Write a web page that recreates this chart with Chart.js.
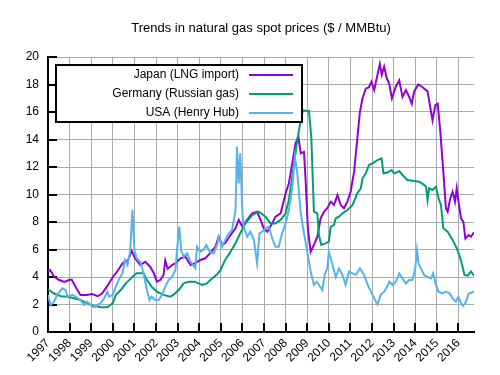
<!DOCTYPE html>
<html>
<head>
<meta charset="utf-8">
<script src="https://cdn.jsdelivr.net/npm/chart.js@4"></script>
<style>
  body { margin: 0; background: #fff; }
  canvas { display: block; }
</style>
</head>
<body>
<canvas id="chartGas" width="500" height="375"></canvas>
<script>
// spot prices, $ / MMBtu as [year, value]
const TITLE = 'Trends in natural gas spot prices ($ / MMBtu)';
const SERIES_LABELS = ['Japan (LNG import)', 'Germany (Russian gas)', 'USA (Henry Hub)'];
const YEAR_MIN = 1997, YEAR_MAX = 2016.72;
const PRICE_MIN = 0, PRICE_MAX = 20, PRICE_STEP = 2;

const japan = [
  [1997.0, 4.4], [1997.1, 4.5], [1997.3, 4.0], [1997.5, 3.8], [1997.75, 3.65], [1998.0, 3.8], [1998.1, 3.8],
  [1998.36, 3.05], [1998.5, 2.7], [1998.8, 2.7], [1999.05, 2.76], [1999.3, 2.6], [1999.5, 2.8], [1999.75, 3.35],
  [2000.0, 4.0], [2000.2, 4.4], [2000.45, 5.0], [2000.7, 5.2], [2000.87, 5.9], [2001.03, 5.36], [2001.27, 4.87],
  [2001.5, 5.1], [2001.73, 4.75], [2001.9, 4.27], [2002.04, 3.66], [2002.2, 3.78], [2002.35, 4.15], [2002.43, 5.2],
  [2002.54, 4.6], [2002.74, 4.87], [2002.9, 5.0], [2003.13, 5.36], [2003.36, 5.47], [2003.6, 4.87], [2003.8, 5.0],
  [2004.05, 5.24], [2004.28, 5.36], [2004.5, 5.72], [2004.75, 6.2], [2004.9, 6.93], [2005.06, 6.33], [2005.2, 6.45],
  [2005.45, 7.05], [2005.68, 7.54], [2005.83, 8.15], [2006.0, 7.66], [2006.22, 8.15], [2006.45, 8.63], [2006.68, 8.75],
  [2006.84, 8.15], [2006.99, 7.54], [2007.15, 7.3], [2007.38, 7.9], [2007.53, 8.39], [2007.77, 8.63], [2008.0, 10.09],
  [2008.15, 10.8], [2008.31, 12.27], [2008.46, 13.72], [2008.59, 14.2], [2008.7, 13.0], [2008.85, 13.1], [2008.93, 10.9],
  [2009.03, 7.54], [2009.16, 5.84], [2009.31, 6.33], [2009.47, 6.93], [2009.62, 8.27], [2009.78, 8.75], [2009.93, 9.0],
  [2010.09, 9.48], [2010.24, 9.24], [2010.4, 9.96], [2010.55, 9.24], [2010.7, 9.0], [2010.86, 9.48], [2011.01, 10.2],
  [2011.17, 11.66], [2011.32, 14.09], [2011.44, 16.02], [2011.56, 17.0], [2011.71, 17.7], [2011.86, 17.8], [2011.97, 18.2],
  [2012.1, 17.6], [2012.25, 18.7], [2012.36, 19.5], [2012.45, 18.7], [2012.56, 19.3], [2012.68, 18.45], [2012.79, 18.1],
  [2012.92, 17.0], [2013.1, 17.84], [2013.26, 18.3], [2013.41, 17.1], [2013.57, 17.6], [2013.72, 17.1], [2013.84, 16.6],
  [2013.95, 17.5], [2014.14, 18.0], [2014.34, 17.8], [2014.57, 17.5], [2014.7, 16.3], [2014.8, 15.4], [2014.93, 16.5],
  [2015.04, 16.6], [2015.16, 14.6], [2015.3, 11.66], [2015.42, 9.0], [2015.5, 8.75], [2015.62, 9.7], [2015.73, 10.2],
  [2015.84, 9.48], [2015.92, 10.45], [2016.0, 9.48], [2016.12, 8.27], [2016.23, 8.0], [2016.32, 6.8], [2016.47, 7.05],
  [2016.58, 6.93], [2016.72, 7.25]
];

const germany = [
  [1997.0, 3.1], [1997.28, 2.8], [1997.6, 2.6], [1997.9, 2.57], [1998.2, 2.45], [1998.5, 2.33], [1998.8, 2.1],
  [1999.1, 1.9], [1999.45, 1.8], [1999.75, 1.8], [2000.0, 2.1], [2000.14, 2.7], [2000.37, 3.05], [2000.6, 3.54],
  [2000.84, 3.9], [2001.0, 4.15], [2001.1, 4.27], [2001.42, 4.27], [2001.58, 3.78], [2001.8, 3.3], [2002.04, 2.93],
  [2002.35, 2.7], [2002.66, 2.57], [2002.8, 2.7], [2003.05, 3.05], [2003.28, 3.54], [2003.5, 3.66], [2003.8, 3.66],
  [2004.13, 3.42], [2004.36, 3.54], [2004.6, 3.9], [2004.83, 4.2], [2004.98, 4.5], [2005.2, 5.24], [2005.45, 5.84],
  [2005.68, 6.45], [2005.9, 7.18], [2006.14, 7.9], [2006.45, 8.5], [2006.76, 8.75], [2007.07, 8.39], [2007.3, 7.9],
  [2007.53, 7.9], [2007.77, 8.15], [2008.0, 8.63], [2008.15, 9.6], [2008.31, 11.3], [2008.54, 13.96], [2008.7, 15.4],
  [2008.8, 16.1], [2009.08, 16.07], [2009.19, 14.1], [2009.31, 8.75], [2009.47, 8.63], [2009.54, 7.05], [2009.65, 6.33],
  [2009.85, 6.45], [2010.0, 6.57], [2010.09, 7.66], [2010.24, 7.78], [2010.32, 8.27], [2010.47, 8.39], [2010.63, 8.63],
  [2010.86, 8.87], [2011.1, 9.24], [2011.32, 10.09], [2011.48, 10.45], [2011.56, 11.18], [2011.71, 11.54], [2011.86, 12.14],
  [2012.02, 12.27], [2012.25, 12.5], [2012.44, 12.63], [2012.53, 11.54], [2012.72, 11.6], [2012.9, 11.78], [2013.03, 11.54],
  [2013.26, 11.7], [2013.41, 11.42], [2013.64, 11.05], [2013.95, 10.98], [2014.18, 10.93], [2014.41, 10.7], [2014.5, 10.57],
  [2014.57, 9.6], [2014.64, 10.45], [2014.8, 10.33], [2014.96, 10.57], [2015.08, 9.72], [2015.19, 9.24], [2015.3, 7.54],
  [2015.5, 7.3], [2015.73, 6.7], [2015.92, 6.09], [2016.04, 5.6], [2016.17, 4.87], [2016.28, 4.15], [2016.43, 4.1],
  [2016.58, 4.4], [2016.72, 4.1]
];

const usa = [
  [1997.0, 2.7], [1997.12, 1.96], [1997.28, 2.2], [1997.43, 2.7], [1997.66, 3.18], [1997.82, 3.05], [1997.9, 2.57],
  [1998.13, 2.7], [1998.28, 2.57], [1998.5, 2.33], [1998.67, 1.96], [1998.82, 2.2], [1998.98, 1.96], [1999.13, 1.8],
  [1999.29, 1.96], [1999.45, 2.13], [1999.6, 2.45], [1999.75, 2.93], [1999.83, 2.57], [2000.0, 2.7], [2000.14, 3.3],
  [2000.3, 3.9], [2000.45, 4.27], [2000.56, 5.24], [2000.68, 4.87], [2000.8, 5.84], [2000.91, 8.87], [2001.0, 5.96],
  [2001.1, 5.36], [2001.27, 5.1], [2001.42, 4.27], [2001.58, 3.05], [2001.7, 2.33], [2001.8, 2.57], [2001.96, 2.33],
  [2002.12, 2.33], [2002.28, 2.7], [2002.43, 3.3], [2002.58, 3.78], [2002.74, 4.0], [2002.9, 4.5], [2002.97, 5.96],
  [2003.08, 7.66], [2003.16, 5.96], [2003.28, 5.47], [2003.44, 5.72], [2003.6, 5.1], [2003.82, 4.63], [2003.9, 6.2],
  [2004.05, 5.84], [2004.2, 5.96], [2004.33, 6.33], [2004.48, 5.84], [2004.67, 5.72], [2004.85, 6.45], [2004.9, 6.93],
  [2005.06, 6.2], [2005.2, 6.7], [2005.37, 7.18], [2005.52, 7.42], [2005.68, 8.87], [2005.75, 13.48], [2005.83, 10.8],
  [2005.9, 13.0], [2006.0, 8.63], [2006.06, 7.66], [2006.22, 6.93], [2006.37, 7.3], [2006.53, 6.7], [2006.68, 5.0],
  [2006.79, 7.18], [2006.92, 7.3], [2007.07, 7.54], [2007.22, 7.66], [2007.38, 6.8], [2007.53, 6.2], [2007.68, 6.2],
  [2007.84, 7.18], [2008.0, 7.9], [2008.15, 8.87], [2008.31, 10.57], [2008.43, 12.75], [2008.54, 11.54], [2008.7, 8.63],
  [2008.85, 7.18], [2009.0, 5.84], [2009.16, 4.4], [2009.31, 3.42], [2009.44, 3.66], [2009.54, 3.42], [2009.7, 3.05],
  [2009.8, 4.15], [2009.93, 4.63], [2010.0, 5.84], [2010.17, 4.87], [2010.32, 4.0], [2010.47, 4.63], [2010.63, 4.15],
  [2010.78, 3.42], [2010.93, 4.4], [2011.1, 4.27], [2011.25, 4.15], [2011.44, 4.63], [2011.63, 4.15], [2011.8, 3.42],
  [2012.02, 2.7], [2012.25, 2.0], [2012.4, 2.7], [2012.56, 2.93], [2012.74, 3.42], [2012.8, 3.66], [2012.95, 3.42],
  [2013.1, 3.66], [2013.26, 4.27], [2013.41, 3.9], [2013.57, 3.54], [2013.72, 3.78], [2013.87, 3.78], [2014.0, 4.63],
  [2014.08, 5.96], [2014.15, 5.0], [2014.26, 4.63], [2014.41, 4.15], [2014.57, 4.0], [2014.73, 3.9], [2014.83, 4.27],
  [2014.96, 3.42], [2015.08, 2.93], [2015.24, 2.8], [2015.42, 2.93], [2015.6, 2.8], [2015.73, 2.45], [2015.88, 2.2],
  [2016.0, 2.57], [2016.12, 2.09], [2016.22, 1.9], [2016.35, 2.2], [2016.47, 2.8], [2016.6, 2.85], [2016.72, 2.95]
];

const COLORS = { japan: '#9400d3', germany: '#009e73', usa: '#56b4e9', grid: '#ababab' };
const FONT = '"Liberation Sans", Arial, sans-serif';

const toXY = arr => arr.map(([x, y]) => ({ x, y }));

// gnuplot style: ticks point inward, title over the plot area, legend box with text then sample line
const gnuplotDecor = {
  id: 'gnuplotDecor',
  beforeDatasetsDraw(chart) {
    const { ctx, scales: { x, y } } = chart;
    ctx.save();
    ctx.strokeStyle = '#000';
    ctx.lineWidth = 2;
    ctx.beginPath();
    x.ticks.forEach(t => {
      const px = Math.round(x.getPixelForValue(t.value));
      ctx.moveTo(px, y.bottom);
      ctx.lineTo(px, y.bottom - 9);
    });
    y.ticks.forEach(t => {
      const py = Math.round(y.getPixelForValue(t.value));
      ctx.moveTo(x.left, py);
      ctx.lineTo(x.left + 9, py);
    });
    ctx.stroke();
    ctx.restore();
  },
  afterDatasetsDraw(chart) {
    const { ctx, chartArea } = chart;
    ctx.save();
    // title
    ctx.fillStyle = '#000';
    ctx.font = '13px ' + FONT;
    ctx.textAlign = 'center';
    ctx.textBaseline = 'middle';
    ctx.fillText(TITLE, (chartArea.left + chartArea.right) / 2, 28);

    // legend
    const box = { l: 56, t: 65, r: 302, b: 122 };
    ctx.fillStyle = '#fff';
    ctx.fillRect(box.l, box.t, box.r - box.l, box.b - box.t);
    ctx.strokeStyle = '#000';
    ctx.lineWidth = 2;
    ctx.strokeRect(box.l, box.t, box.r - box.l, box.b - box.t);
    ctx.font = '12px ' + FONT;
    ctx.textAlign = 'right';
    const rows = [75, 94, 113];
    chart.data.datasets.forEach((ds, i) => {
      ctx.fillStyle = '#000';
      ctx.fillText(ds.label, 239, rows[i]);
      ctx.strokeStyle = ds.borderColor;
      ctx.lineWidth = 2;
      ctx.beginPath();
      ctx.moveTo(249, rows[i]);
      ctx.lineTo(293, rows[i]);
      ctx.stroke();
    });
    ctx.restore();
  }
};

new Chart(document.getElementById('chartGas'), {
  type: 'line',
  data: {
    datasets: [
      { label: SERIES_LABELS[0], data: toXY(japan), borderColor: COLORS.japan, order: 2 },
      { label: SERIES_LABELS[1], data: toXY(germany), borderColor: COLORS.germany, order: 1 },
      { label: SERIES_LABELS[2], data: toXY(usa), borderColor: COLORS.usa, order: 0 }
    ]
  },
  options: {
    responsive: false,
    animation: false,
    elements: {
      line: { borderWidth: 2, tension: 0, fill: false },
      point: { radius: 0 }
    },
    layout: { padding: { top: 57, right: 26, left: 0, bottom: 0 } },
    plugins: {
      legend: { display: false },
      title: { display: false },
      tooltip: { enabled: false }
    },
    scales: {
      x: {
        type: 'linear',
        min: YEAR_MIN,
        max: YEAR_MAX,
        grid: { color: COLORS.grid, drawTicks: false },
        border: { color: '#000', width: 2 },
        ticks: {
          stepSize: 1,
          includeBounds: false,
          autoSkip: false,
          minRotation: 45,
          maxRotation: 45,
          padding: 4,
          color: '#000',
          font: { family: FONT, size: 12 },
          callback: v => String(v)
        },
        afterFit: s => { s.height = 43; }
      },
      y: {
        min: PRICE_MIN,
        max: PRICE_MAX,
        grid: { color: COLORS.grid, drawTicks: false },
        border: { color: '#000', width: 2 },
        ticks: {
          stepSize: PRICE_STEP,
          padding: 9,
          color: '#000',
          font: { family: FONT, size: 12 }
        },
        afterFit: s => { s.width = 48; }
      }
    }
  },
  plugins: [gnuplotDecor]
});
</script>
</body>
</html>
